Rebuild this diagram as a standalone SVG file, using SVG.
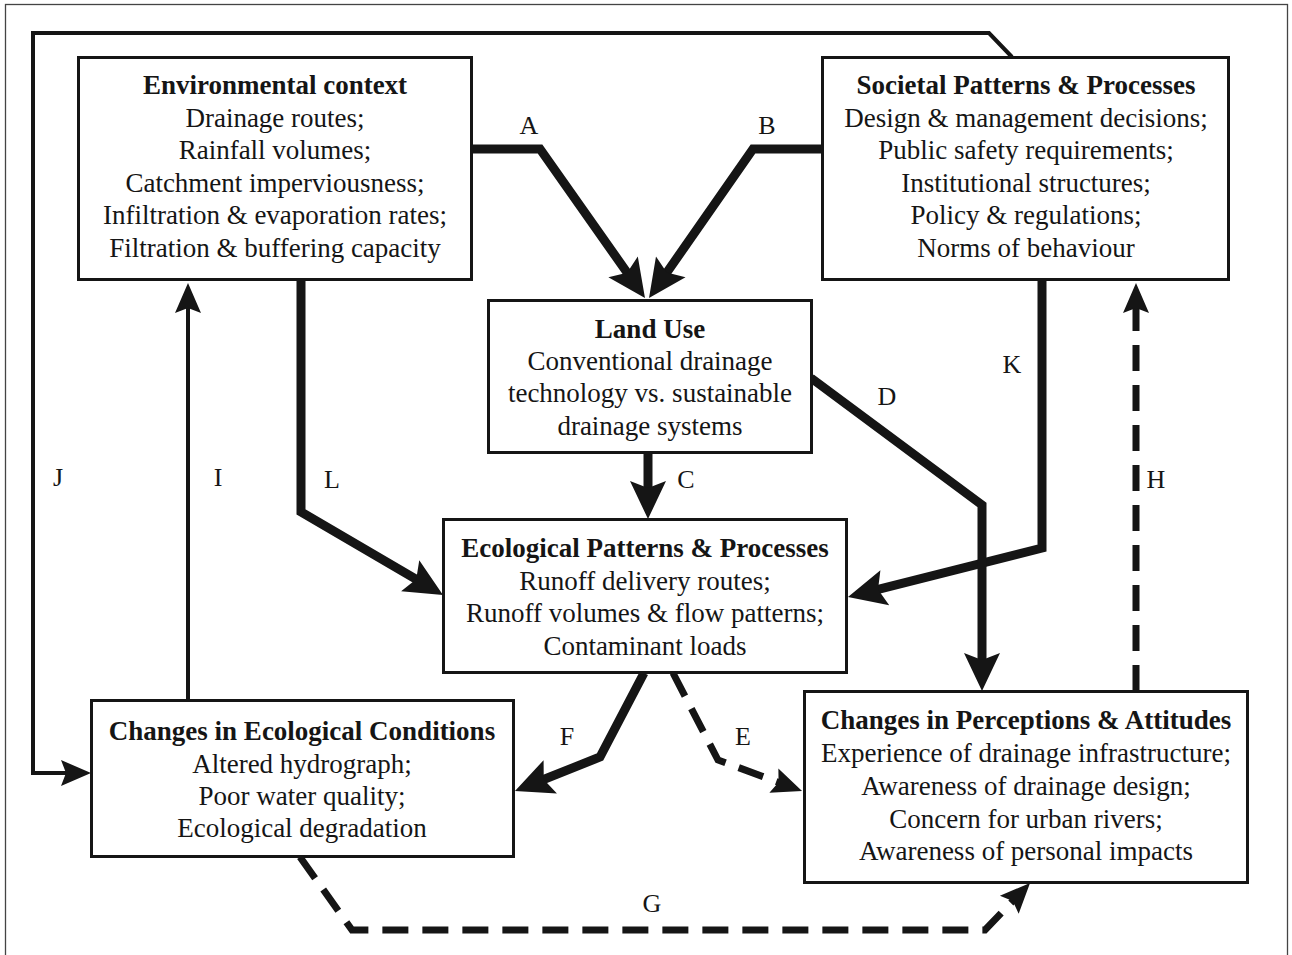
<svg xmlns="http://www.w3.org/2000/svg" width="1292" height="955" viewBox="0 0 1292 955">
<style>
.box{fill:#fff;stroke:#151515;stroke-width:3}
.t{font-family:"Liberation Serif","Times New Roman",serif;font-size:27px;fill:#151515;text-anchor:middle}
.b{font-weight:bold}
.lbl{font-family:"Liberation Serif","Times New Roman",serif;font-size:26px;fill:#151515;text-anchor:middle}
.thick{fill:none;stroke:#151515;stroke-width:9;stroke-linejoin:miter}
.thin{fill:none;stroke:#151515;stroke-width:4}
.dash{fill:none;stroke:#151515;stroke-width:7;stroke-dasharray:26 14}
</style>
<defs>
<marker id="big" markerUnits="userSpaceOnUse" viewBox="-42 -22 46 44" markerWidth="46" markerHeight="44" refX="-22" refY="0" orient="auto">
<path d="M0,0 L-38,-18 L-31,0 L-38,18 Z" fill="#151515"/>
</marker>
<marker id="small" markerUnits="userSpaceOnUse" viewBox="-34 -16 38 32" markerWidth="38" markerHeight="32" refX="-19" refY="0" orient="auto">
<path d="M0,0 L-30,-13 L-25,0 L-30,13 Z" fill="#151515"/>
</marker>
</defs>
<rect x="0" y="0" width="1292" height="955" fill="#fff"/>
<rect x="5.5" y="4.5" width="1282" height="980" fill="none" stroke="#444" stroke-width="1.3"/>

<g id="connectors">
<path id="A" class="thick" d="M471,149 H540 L632.3,280" marker-end="url(#big)"/>
<path id="B" class="thick" d="M822,149 H753 L661.6,280" marker-end="url(#big)"/>
<path id="C" class="thick" d="M648,453 V497" marker-end="url(#big)"/>
<path id="L" class="thick" d="M301,280 V512 L424,583.9" marker-end="url(#big)"/>
<path id="K" class="thick" d="M1042,280 V548 L869.3,591.6" marker-end="url(#big)"/>
<path id="D" class="thick" d="M811,378 L982,505 V669" marker-end="url(#big)"/>
<path id="F" class="thick" d="M644,673 L600,757 L535.4,782.8" marker-end="url(#big)"/>
<path id="I" class="thin" d="M188,700 V302" marker-end="url(#small)"/>
<path id="J" class="thin" d="M1012,57 L989,33 H33 V773 H72" marker-end="url(#small)"/>
<path id="H" class="dash" d="M1136,691 V302" marker-end="url(#small)"/>
<path id="E" class="dash" d="M673,673 L718,760 L784.2,784.4" marker-end="url(#small)"/>
<path id="G" class="dash" d="M300,857 L352,930 H985 L1016.9,896.7" marker-end="url(#small)"/>
<text class="lbl" x="529" y="134">A</text>
<text class="lbl" x="767" y="134">B</text>
<text class="lbl" x="686" y="488">C</text>
<text class="lbl" x="887" y="405">D</text>
<text class="lbl" x="743" y="745">E</text>
<text class="lbl" x="567" y="745">F</text>
<text class="lbl" x="652" y="912">G</text>
<text class="lbl" x="1156" y="488">H</text>
<text class="lbl" x="218" y="486">I</text>
<text class="lbl" x="58" y="486">J</text>
<text class="lbl" x="1012" y="373">K</text>
<text class="lbl" x="332" y="488">L</text>
</g>

<g id="env">
<rect class="box" x="78.5" y="57.5" width="393" height="222"/>
<text class="t b" x="275" y="94">Environmental context</text>
<text class="t" x="275" y="127">Drainage routes;</text>
<text class="t" x="275" y="159">Rainfall volumes;</text>
<text class="t" x="275" y="192">Catchment imperviousness;</text>
<text class="t" x="275" y="224">Infiltration &amp; evaporation rates;</text>
<text class="t" x="275" y="257">Filtration &amp; buffering capacity</text>
</g>

<g id="soc">
<rect class="box" x="822.5" y="57.5" width="406" height="222"/>
<text class="t b" x="1026" y="94">Societal Patterns &amp; Processes</text>
<text class="t" x="1026" y="127">Design &amp; management decisions;</text>
<text class="t" x="1026" y="159">Public safety requirements;</text>
<text class="t" x="1026" y="192">Institutional structures;</text>
<text class="t" x="1026" y="224">Policy &amp; regulations;</text>
<text class="t" x="1026" y="257">Norms of behaviour</text>
</g>

<g id="land">
<rect class="box" x="488.5" y="300.5" width="323" height="152"/>
<text class="t b" x="650" y="338">Land Use</text>
<text class="t" x="650" y="370">Conventional drainage</text>
<text class="t" x="650" y="402">technology vs. sustainable</text>
<text class="t" x="650" y="435">drainage systems</text>
</g>

<g id="eco">
<rect class="box" x="443.5" y="519.5" width="403" height="153"/>
<text class="t b" x="645" y="557">Ecological Patterns &amp; Processes</text>
<text class="t" x="645" y="590">Runoff delivery routes;</text>
<text class="t" x="645" y="622">Runoff volumes &amp; flow patterns;</text>
<text class="t" x="645" y="655">Contaminant loads</text>
</g>

<g id="chg_eco">
<rect class="box" x="91.5" y="700.5" width="422" height="156"/>
<text class="t b" x="302" y="740">Changes in Ecological Conditions</text>
<text class="t" x="302" y="773">Altered hydrograph;</text>
<text class="t" x="302" y="805">Poor water quality;</text>
<text class="t" x="302" y="837">Ecological degradation</text>
</g>

<g id="perc">
<rect class="box" x="804.5" y="691.5" width="443" height="191"/>
<text class="t b" x="1026" y="729">Changes in Perceptions &amp; Attitudes</text>
<text class="t" x="1026" y="762">Experience of drainage infrastructure;</text>
<text class="t" x="1026" y="795">Awareness of drainage design;</text>
<text class="t" x="1026" y="828">Concern for urban rivers;</text>
<text class="t" x="1026" y="860">Awareness of personal impacts</text>
</g>
</svg>
